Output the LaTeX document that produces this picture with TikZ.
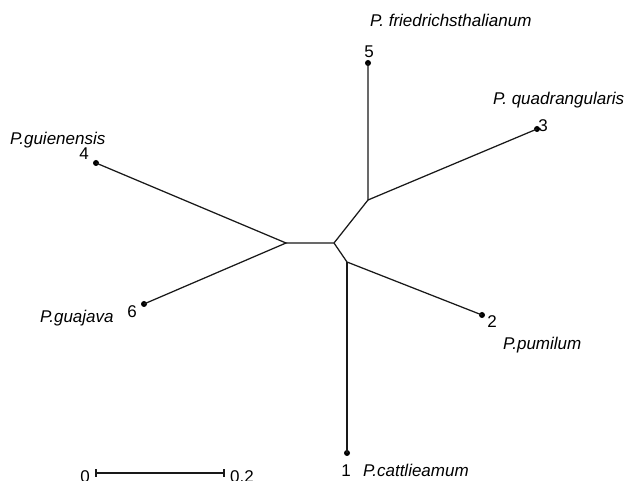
\documentclass[tikz,border=0pt]{standalone}
\usepackage{fontspec}
\setmainfont{Liberation Sans}
\begin{document}
\begin{tikzpicture}[x=1pt,y=-1pt,
  branch/.style={draw=black!90, line width=1.25pt},
  tip/.style={circle, fill=black, inner sep=0pt, minimum size=6pt},
  taxon/.style={anchor=base west, inner sep=0pt, font=\fontsize{17}{20}\selectfont\itshape},
  num/.style={anchor=base, inner sep=0pt, font=\fontsize{17}{20}\selectfont}]
\useasboundingbox (0,0) rectangle (633,481);

% internal junctions
\coordinate (A) at (286,243);
\coordinate (B) at (334,243);
\coordinate (C) at (368,200);
\coordinate (D) at (347,262);

% leaves
\node[tip] (t1) at (347,453) {};
\node[tip] (t2) at (482,315) {};
\node[tip] (t3) at (537,129) {};
\node[tip] (t4) at (96,163) {};
\node[tip] (t5) at (368,63) {};
\node[tip] (t6) at (144,304) {};

% branches
\draw[branch] (t4.center) -- (A) -- (t6.center);
\draw[branch] (A) -- (B) -- (C) -- (t5.center);
\draw[branch] (C) -- (t3.center);
\draw[branch] (B) -- (D) -- (t2.center);
\draw[branch] (D) -- (t1.center);

% leaf numbers
\node[num] (n1) at (346,477) {1};
\node[num] (n2) at (492,328) {2};
\node[num] (n3) at (543,132) {3};
\node[num] (n4) at (84,160) {4};
\node[num] (n5) at (369,58) {5};
\node[num] (n6) at (132,318) {6};

% taxon names
\node[taxon] (s1) at (363,477) {P.cattlieamum};
\node[taxon] (s2) at (503,350) {P.pumilum};
\node[taxon] (s3) at (493,105) {P. quadrangularis};
\node[taxon] (s4) at (10,145) {P.guienensis};
\node[taxon] (s5) at (370,27) {P. friedrichsthalianum};
\node[taxon] (s6) at (40,323) {P.guajava};

% scale bar
\coordinate (sb0) at (96,473);
\coordinate (sb1) at (224,473);
\draw[branch] (sb0) -- (sb1);
\draw[branch] ([yshift=-4pt]sb0) -- ([yshift=4pt]sb0);
\draw[branch] ([yshift=-4pt]sb1) -- ([yshift=4pt]sb1);
\node[num, anchor=base east] (sl0) at (90,483) {0};
\node[num, anchor=base west] (sl1) at (230,483) {0.2};
\end{tikzpicture}
\end{document}
